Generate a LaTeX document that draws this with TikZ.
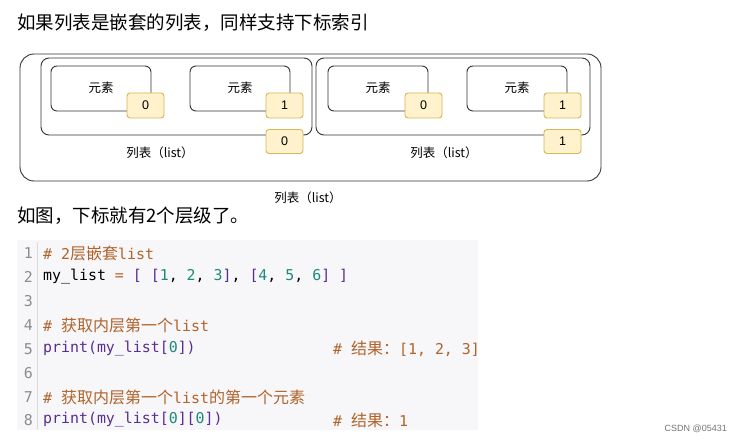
\documentclass[tikz,border=0pt]{standalone}
\usepackage{fontspec}
\setmainfont{Liberation Sans}
\setmonofont{DejaVu Sans Mono}
\newfontfamily\cjk{Noto Sans CJK SC}
\definecolor{bdg}{HTML}{FFF2CC}
\definecolor{bdgl}{HTML}{D6B656}
\definecolor{cmt}{HTML}{B0632A}
\definecolor{kw}{HTML}{5A2D91}
\definecolor{num}{HTML}{1C8A7A}
\definecolor{codebg}{HTML}{F7F7F9}
\tikzset{
 box/.style={draw=black!80,line width=0.9pt,rounded corners=8pt},
 badge/.style={draw=bdgl,fill=bdg,line width=0.9pt,rounded corners=3pt,font=\fontsize{12.5}{13}\selectfont},
 lbl/.style={font=\cjk\fontsize{12.5}{14}\selectfont},
 codeln/.style={anchor=west,font=\ttfamily\fontsize{14.9}{16}\selectfont,inner sep=0},
 lnum/.style={anchor=east,font=\ttfamily\fontsize{14.9}{16}\selectfont,text=black!45,inner sep=0},
 cj/.style={}
}
\newcommand{\cjc}[1]{{\cjk\fontsize{16}{16}\selectfont #1}}
\begin{document}
\begin{tikzpicture}[x=1pt,y=-1pt]
\useasboundingbox (0,0) rectangle (742,443);
\node[anchor=west,font=\cjk\fontsize{18.5}{20}\selectfont,inner sep=0] (t1) at (17,23) {如果列表是嵌套的列表，同样支持下标索引};
\draw[box,rounded corners=14pt] (20,54) rectangle (601,181);
\draw[box] (41,58) rectangle (312,135);
\draw[box] (316,58) rectangle (590,135);
\foreach \x/\bx/\v/\n in {51/127/0/a,190/266/1/b,328/405/0/c,467/544/1/d}{
 \draw[box,rounded corners=6pt] (\x,66) rectangle (\x+100,111);
 \node[lbl] (e\n) at (\x+50,88) {元素};
 \node[badge,minimum width=37pt,minimum height=25pt] (i\n) at (\bx+18.5,105.5) {\v};
}
\node[badge,minimum width=37pt,minimum height=24pt] (ol) at (284.5,141.5) {0};
\node[badge,minimum width=37pt,minimum height=24pt] (or) at (562.5,141.5) {1};
\node[lbl] (l1) at (160,153) {列表（list）};
\node[lbl] (l2) at (444,153) {列表（list）};
\node[lbl] (l3) at (308,198) {列表（list）};
\node[anchor=west,font=\cjk\fontsize{18.5}{20}\selectfont,inner sep=0] (t2) at (17,216) {如图，下标就有2个层级了。};
\fill[codebg] (17,240) rectangle (478,430);
\draw[black!15,line width=0.8pt] (37,242) -- (37,430);
\foreach \i/\y in {1/253,2/277,3/301,4/325,5/349,6/373,7/397,8/420}{
 \node[lnum] (n\i) at (33,\y) {\i};
}
\node[codeln,text=cmt] (c1) at (43,253) {\# 2\cjc{层嵌套}list};
\node[codeln] (c2) at (43,277) {my\_list {\color{cmt}=} {\color{kw}[} {\color{kw}[}{\color{num}1}, {\color{num}2}, {\color{num}3}{\color{kw}]}, {\color{kw}[}{\color{num}4}, {\color{num}5}, {\color{num}6}{\color{kw}]} {\color{kw}]}};
\node[codeln,text=cmt] (c4) at (43,325) {\# \cjc{获取内层第一个}list};
\node[codeln,text=kw] (c5) at (43,349) {print(my\_list[{\color{num}0}])};
\node[codeln,text=cmt] (r5) at (333,349) {\# \cjc{结果：}[1, 2, 3]};
\node[codeln,text=cmt] (c7) at (43,397) {\# \cjc{获取内层第一个}list\cjc{的第一个元素}};
\node[codeln,text=kw] (c8) at (43,420) {print(my\_list[{\color{num}0}][{\color{num}0}])};
\node[codeln,text=cmt] (r8) at (333,420) {\# \cjc{结果：}1};
\node[anchor=east,font=\fontsize{9}{10}\selectfont,text=black!55,inner sep=0] (wm) at (727,429) {CSDN @05431};
\end{tikzpicture}
\end{document}
